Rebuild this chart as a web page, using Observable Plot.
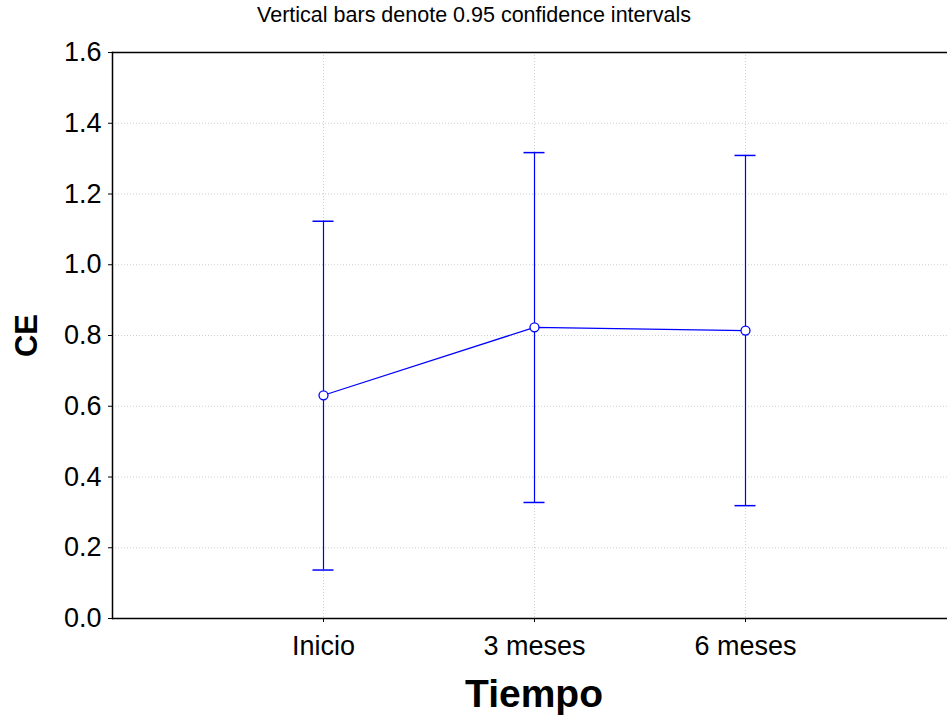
<!DOCTYPE html>
<html>
<head>
<meta charset="utf-8">
<script src="https://cdn.jsdelivr.net/npm/d3@7"></script>
<script src="https://cdn.jsdelivr.net/npm/@observablehq/plot@0.6"></script>
<style>
  html, body { margin: 0; padding: 0; background: #fff; }
  svg { display: block; }
</style>
</head>
<body>
<div id="chart"></div>
<script>
// Mean CE per time point with 0.95 confidence interval bounds
const categories = ["Inicio", "3 meses", "6 meses"];
const means = [0.631, 0.823, 0.814];
const lower = [0.137, 0.328, 0.319];
const upper = [1.123, 1.317, 1.309];
const yTicks = [0, 0.2, 0.4, 0.6, 0.8, 1.0, 1.2, 1.4, 1.6];

const data = categories.map((t, i) => ({t, mean: means[i], lo: lower[i], hi: upper[i]}));

const blue = "#0000ff";
const font = "Liberation Sans, Arial, sans-serif";

const chart = Plot.plot({
  width: 947,
  height: 715,
  marginTop: 52,
  marginBottom: 97,
  marginLeft: 112,
  marginRight: 0,
  style: {fontFamily: font, background: "#fff", overflow: "visible"},
  x: {type: "point", domain: categories, range: [322, 745], padding: 0, label: null},
  y: {domain: [0, 1.6], label: null},
  marks: [
    Plot.gridY(yTicks, {stroke: "#cfcfcf", strokeOpacity: 1, strokeDasharray: "1,2"}),
    Plot.gridX(categories, {stroke: "#cfcfcf", strokeOpacity: 1, strokeDasharray: "1,2"}),
    Plot.axisY(yTicks, {tickSize: 4, tickPadding: 7, tickFormat: d3.format(".1f"), fontSize: 27, label: null}),
    Plot.axisX(categories, {tickSize: 4, tickPadding: 13, fontSize: 27, label: null}),
    Plot.frame({anchor: "left", stroke: "#000", strokeWidth: 1.5}),
    Plot.frame({anchor: "top", stroke: "#000", strokeWidth: 1.5}),
    Plot.frame({anchor: "bottom", stroke: "#000", strokeWidth: 1.5}),
    // confidence interval whiskers and caps
    Plot.ruleX(data, {x: "t", y1: "lo", y2: "hi", stroke: blue, strokeWidth: 1.2}),
    Plot.ruleY(data, {y: "hi", x1: "t", x2: "t", insetLeft: -10.5, insetRight: -10.5, stroke: blue, strokeWidth: 1.5}),
    Plot.ruleY(data, {y: "lo", x1: "t", x2: "t", insetLeft: -10.5, insetRight: -10.5, stroke: blue, strokeWidth: 1.5}),
    // means
    Plot.line(data, {x: "t", y: "mean", stroke: blue, strokeWidth: 1.2}),
    Plot.dot(data, {x: "t", y: "mean", r: 4.5, fill: "#fff", stroke: blue, strokeWidth: 1.3}),
    // titles
    Plot.text(["Vertical bars denote 0.95 confidence intervals"], {frameAnchor: "top", lineAnchor: "middle", dx: -56, dy: -37, fontSize: 21.5, fill: "#000"}),
    Plot.text(["CE"], {frameAnchor: "left", textAnchor: "middle", dx: -85, rotate: -90, fontSize: 31, fontWeight: "bold", fill: "#000"}),
    Plot.text(["Tiempo"], {frameAnchor: "bottom", lineAnchor: "middle", dx: 4, dy: 76, fontSize: 39, fontWeight: "bold", fill: "#000"})
  ]
});

document.getElementById("chart").append(chart);
</script>
</body>
</html>
